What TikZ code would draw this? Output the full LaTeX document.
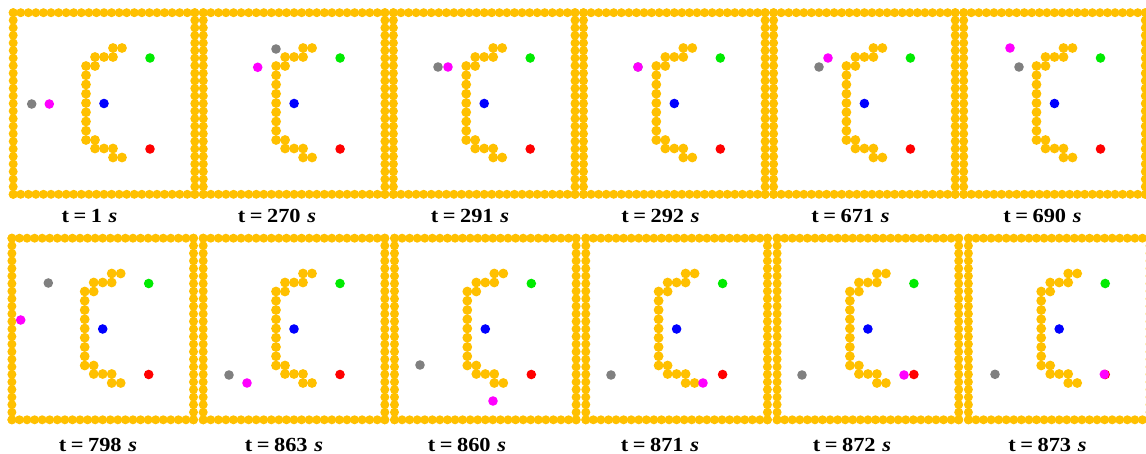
\documentclass[tikz,border=0pt]{standalone}
\usepackage{graphicx}
\usepackage{fontspec}
\setmainfont{Liberation Serif}
\definecolor{gold}{RGB}{255,192,0}
\definecolor{pgreen}{RGB}{0,235,0}
\definecolor{pblue}{RGB}{0,0,255}
\definecolor{pred}{RGB}{255,0,0}
\definecolor{pgray}{RGB}{128,128,128}
\definecolor{pmag}{RGB}{255,0,255}
\tikzset{
  lab/.style={anchor=base, inner sep=0pt, font=\fontsize{20}{21}\selectfont\bfseries},
}
\newcommand{\tlab}[1]{\scalebox{1.12}[1]{t\hspace{4pt}=\hspace{4pt}#1\hspace{6pt}\textit{s}}}
\newcommand{\drawpanel}[2]{%
  \begin{scope}[shift={(#1,#2)}]
    \foreach \i in {0,...,24} {
      \pgfmathsetmacro\p{-90.8+\i*181.6/24}
      \fill[gold] (\p,-90.8) circle (4.5);
      \fill[gold] (\p,90.8) circle (4.5);
      \fill[gold] (-90.8,\p) circle (4.5);
      \fill[gold] (90.8,\p) circle (4.5);
    }
    \foreach \dx/\dy in {9/-55.5,18/-55.5,-9/-46.5,0/-46.5,9/-46.5,-9/-37.5,
                         -9/36.5,-9/45,0/45,9/45,9/54,18/54}
      \fill[gold] (\dx,\dy) circle (4.9);
    \foreach \k in {0,...,8}
      \fill[gold] (-18,-37.5+\k*9.25) circle (4.9);
    \fill[pgreen] (46,-45.5) circle (4.8);
    \fill[pblue] (0,0) circle (4.8);
    \fill[pred] (46,45.5) circle (4.8);
  \end{scope}}
\newcommand{\movers}[2]{%
  \fill[pgray] (#1) circle (4.8);
  \fill[pmag] (#2) circle (4.8);}
\begin{document}
\begin{tikzpicture}[x=1pt,y=-1pt]
\useasboundingbox (0,0) rectangle (1146,454);
% row 1
\drawpanel{104}{103.5}
\drawpanel{294.1}{103.5}
\drawpanel{484.2}{103.5}
\drawpanel{674.3}{103.5}
\drawpanel{864.4}{103.5}
\drawpanel{1054.5}{103.5}
% row 2
\drawpanel{102.7}{329}
\drawpanel{294}{329}
\drawpanel{485.3}{329}
\drawpanel{676.6}{329}
\drawpanel{867.9}{329}
\drawpanel{1059.2}{329}
% moving particles row 1
\movers{31.7,104}{49.3,104}
\movers{276,49}{257.7,67.3}
\movers{438,67}{448,67}
\movers{638,67}{638,67}
\movers{819,67}{828,58}
\movers{1019,67}{1010,48}
% moving particles row 2
\movers{48.3,283}{20.7,320}
\movers{229,375}{247,383}
\movers{420,365}{493,401}
\movers{611,375}{703,383}
\movers{802,375}{904,375}
\movers{995,374.3}{1104.3,374.3}
% labels
\node[lab] (l1) at (89.5,223) {\tlab{1}};
\node[lab] (l2) at (277,223) {\tlab{270}};
\node[lab] (l3) at (470,223) {\tlab{291}};
\node[lab] (l4) at (660.5,223) {\tlab{292}};
\node[lab] (l5) at (850.5,223) {\tlab{671}};
\node[lab] (l6) at (1042.5,223) {\tlab{690}};
\node[lab] (l7) at (98,451) {\tlab{798}};
\node[lab] (l8) at (284,451) {\tlab{863}};
\node[lab] (l9) at (467,451) {\tlab{860}};
\node[lab] (l10) at (660,451) {\tlab{871}};
\node[lab] (l11) at (852,451) {\tlab{872}};
\node[lab] (l12) at (1047.5,451) {\tlab{873}};
\end{tikzpicture}
\end{document}
